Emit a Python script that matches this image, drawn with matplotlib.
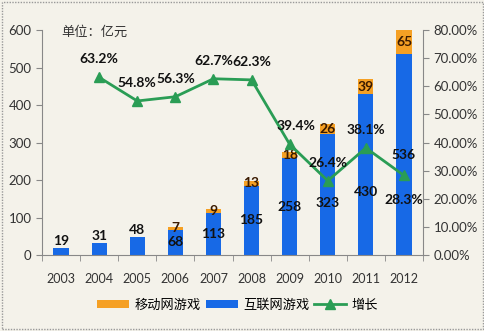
import numpy as np
import matplotlib
matplotlib.use('Agg')
import matplotlib.pyplot as plt
from matplotlib.patches import Rectangle

plt.rcParams['font.family'] = ['Lato', 'Noto Sans CJK SC', 'DejaVu Sans']

years = ['2003', '2004', '2005', '2006', '2007', '2008', '2009', '2010', '2011', '2012']
internet = [19, 31, 48, 68, 113, 185, 258, 323, 430, 536]
mobile = [0, 0, 0, 7, 9, 13, 18, 26, 39, 65]
growth_years = years[1:]
growth = [63.2, 54.8, 56.3, 62.7, 62.3, 39.4, 26.4, 38.1, 28.3]

blue = '#1769e6'
orange = '#f5a024'
green = '#2a9d55'
bg = '#f4f2ea'

fig = plt.figure(figsize=(4.85, 3.31), dpi=100, facecolor=bg)
fig.patches.append(Rectangle((0.004, 0.006), 0.992, 0.988, transform=fig.transFigure,
                             fill=False, edgecolor='#999999', linestyle=(0, (1, 1)), lw=1))
ax = fig.add_axes([0.0866, 0.2296, 0.7856, 0.6794])
ax.set_facecolor(bg)
x = np.arange(len(years))
w = 0.4
ax.bar(x, internet, w, color=blue, label='互联网游戏', zorder=2)
ax.bar(x, mobile, w, bottom=internet, color=orange, label='移动网游戏', zorder=2)

ax.set_xlim(-0.5, len(years) - 0.5)
ax.set_ylim(0, 600)
ax.set_yticks(range(0, 601, 100))
ax.set_xticks(x)
ax.set_xticklabels(years)
ax.set_xticks(np.arange(-0.5, len(years)), minor=True)
ax.tick_params(axis='x', which='major', length=0, pad=13, labelsize=9, colors='#333333')
ax.tick_params(axis='x', which='minor', length=4, color='#888888')
ax.tick_params(axis='y', length=4, color='#888888', labelsize=9.5, labelcolor='#333333')
for s in ['top', 'right']:
    ax.spines[s].set_visible(False)
for s in ['left', 'bottom']:
    ax.spines[s].set_color('#888888')

# value labels
for i, v in enumerate(internet):
    if mobile[i] == 0:
        ax.text(i, v + 3, str(v), ha='center', va='bottom', fontsize=10, fontweight='bold', color='#111111', zorder=5)
    else:
        y = v / 2
        if years[i] == '2011':
            y = v / 2 - 48
        elif years[i] == '2010':
            y = v / 2 - 22
        ax.text(i, y, str(v), ha='center', va='center', fontsize=10, fontweight='bold', color='#111111', zorder=5)
for i, m in enumerate(mobile):
    if m > 0:
        ax.text(i, internet[i] + m / 2, str(m), ha='center', va='center', fontsize=10,
                fontweight='bold', color='#3a1a00', zorder=5)

ax2 = ax.twinx()
ax2.set_ylim(0, 80)
ax2.set_yticks(range(0, 81, 10))
ax2.set_yticklabels([f'{t}.00%' for t in range(0, 81, 10)])
ax2.tick_params(axis='y', length=4, color='#888888', labelsize=9.5, labelcolor='#333333')
for s in ['top', 'left', 'bottom']:
    ax2.spines[s].set_visible(False)
ax2.spines['right'].set_color('#888888')
gx = x[1:]
ax2.plot(gx, growth, color=green, lw=2, marker='^', markersize=7.5, label='增长', zorder=4)
for i, g in enumerate(growth):
    dy = -25 if growth_years[i] == '2012' else 18
    dx = 6 if growth_years[i] == '2009' else 0
    ax2.annotate(f'{g}%', (gx[i], g), xytext=(dx, dy), textcoords='offset pixels',
                 ha='center', va='center', fontsize=10, fontweight='bold', color='#111111', zorder=5)

ax.text(0.05, 0.99, '单位：亿元', transform=ax.transAxes, fontsize=9.5,
        family=['Noto Sans CJK SC'], color='#333333', va='center')

h1, l1 = ax.get_legend_handles_labels()
h2, l2 = ax2.get_legend_handles_labels()
fig.legend([h1[1], h1[0], h2[0]], [l1[1], l1[0], l2[0]], loc='center', bbox_to_anchor=(0.49, 0.078),
           ncol=3, frameon=False, prop={'family': 'Noto Sans CJK SC', 'size': 9.5},
           handlelength=2.4, handleheight=0.5, handletextpad=0.4, columnspacing=0.4)

fig.savefig('out.png', dpi=100, facecolor=bg)
